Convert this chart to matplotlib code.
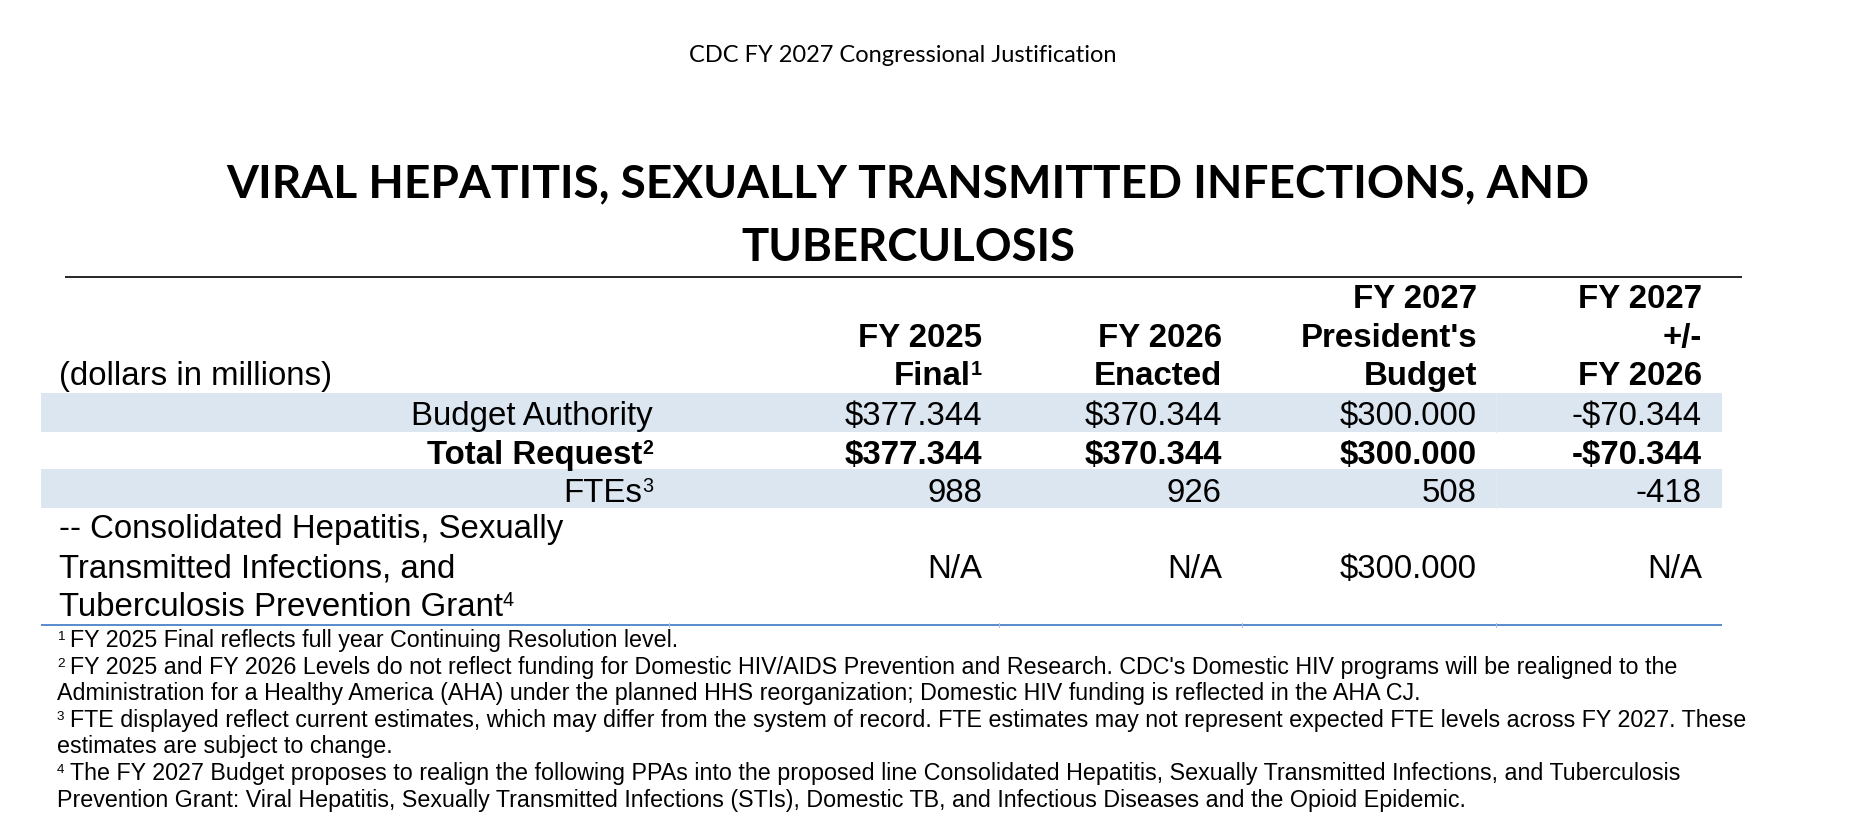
import matplotlib
matplotlib.use("Agg")
import matplotlib.pyplot as plt
from matplotlib.patches import Rectangle

# ---- data ----
page_header = "CDC FY 2027 Congressional Justification"
title_lines = ["VIRAL HEPATITIS, SEXUALLY TRANSMITTED INFECTIONS, AND", "TUBERCULOSIS"]
unit_label = "(dollars in millions)"
column_headers = [
    ["FY 2025", "Final"],
    ["FY 2026", "Enacted"],
    ["FY 2027", "President's", "Budget"],
    ["FY 2027", "+/-", "FY 2026"],
]
column_notes = ["1", "", "", ""]
row_labels = ["Budget Authority", "Total Request", "FTEs"]
row_notes = ["", "2", "3"]
budget_authority = [377.344, 370.344, 300.000, -70.344]
total_request = [377.344, 370.344, 300.000, -70.344]
ftes = [988, 926, 508, -418]
grant_label = ["-- Consolidated Hepatitis, Sexually",
               "Transmitted Infections, and",
               "Tuberculosis Prevention Grant"]
grant_note = "4"
grant_values = [None, None, 300.000, None]
footnote_marks = ["1", "2", "", "3", "", "4", ""]
footnotes = [
    "FY 2025 Final reflects full year Continuing Resolution level.",
    "FY 2025 and FY 2026 Levels do not reflect funding for Domestic HIV/AIDS Prevention and Research. CDC's Domestic HIV programs will be realigned to the",
    "Administration for a Healthy America (AHA) under the planned HHS reorganization; Domestic HIV funding is reflected in the AHA CJ.",
    "FTE displayed reflect current estimates, which may differ from the system of record. FTE estimates may not represent expected FTE levels across FY 2027. These",
    "estimates are subject to change.",
    "The FY 2027 Budget proposes to realign the following PPAs into the proposed line Consolidated Hepatitis, Sexually Transmitted Infections, and Tuberculosis",
    "Prevention Grant: Viral Hepatitis, Sexually Transmitted Infections (STIs), Domestic TB, and Infectious Diseases and the Opioid Epidemic.",
]


def money(v):
    if v is None:
        return "N/A"
    s = f"${abs(v):.3f}"
    return "-" + s if v < 0 else s


def count(v):
    return f"{v:d}"


W, H = 1856, 838
fig = plt.figure(figsize=(W / 100, H / 100), dpi=100)
ax = fig.add_axes([0, 0, 1, 1])
ax.set_xlim(0, W)
ax.set_ylim(H, 0)
ax.axis("off")

px = 0.72  # points per pixel
tbl_font = ["Liberation Sans", "DejaVu Sans"]
tbl_px = 33
head_font = ["Lato", "Open Sans", "DejaVu Sans"]

renderer = fig.canvas.get_renderer()


def width_of(t):
    return t.get_window_extent(renderer).width


def fit_width(t, width):
    t.set_fontsize(t.get_fontsize() * width / width_of(t))


def sup_right(x, base, main, note, size_px=tbl_px, weight="normal"):
    """Right-aligned text with a small raised note number after it."""
    sup_px = size_px * 0.6
    raise_px = 0.716 * (size_px - sup_px) + 0.5
    kw = dict(va="baseline", family=tbl_font, fontweight=weight)
    dx = 0
    if note:
        ts = ax.text(x, base - raise_px, note, ha="right", fontsize=sup_px * px, **kw)
        dx = width_of(ts)
    ax.text(x - dx, base, main, ha="right", fontsize=size_px * px, **kw)


# page header and title
t = ax.text(903, 62, page_header, ha="center", va="baseline", family=head_font, fontsize=18)
fit_width(t, 427)
for text, base, width in zip(title_lines, [197, 261], [1360, 334]):
    t = ax.text(908, base, text, ha="center", va="baseline", family=head_font,
                fontweight="bold", fontsize=40)
    fit_width(t, width)

ax.plot([65, 1742], [277, 277], color="#2b2b2b", lw=2 * px, solid_capstyle="butt")

# table geometry
col_right = [982, 1222, 1477, 1702]
label_right = 653
left_x = 59
band_color = "#dce6f1"

# shaded rows
for top in [393, 469]:
    ax.add_patch(Rectangle((41, top), 1722 - 41, 38.5, facecolor=band_color, edgecolor="none"))
    ax.plot([1496, 1496], [top, top + 38.5], color="#e2e9f3", lw=1 * px)

# column headers, bottom aligned
head_bases = [308, 347, 385]
for x, lines, note in zip(col_right, column_headers, column_notes):
    for k, (line, base) in enumerate(zip(lines, head_bases[-len(lines):])):
        last = k == len(lines) - 1
        sup_right(x, base, line, note if last else "", weight="bold")
ax.text(left_x, 385, unit_label, ha="left", va="baseline", family=tbl_font,
        fontsize=tbl_px * px)

# data rows
row_bases = [425, 464, 502]
row_values = [budget_authority, total_request, ftes]
row_fmt = [money, money, count]
row_weight = ["normal", "bold", "normal"]
for label, note, vals, fmt, wt, base in zip(row_labels, row_notes, row_values, row_fmt,
                                            row_weight, row_bases):
    sup_right(label_right, base, label, note, weight=wt)
    for x, v in zip(col_right, vals):
        ax.text(x, base, fmt(v), ha="right", va="baseline", family=tbl_font,
                fontsize=tbl_px * px, fontweight=wt)

# consolidated grant row
grant_bases = [538, 577, 616]
for k, (line, base) in enumerate(zip(grant_label, grant_bases)):
    tm = ax.text(left_x, base, line, ha="left", va="baseline", family=tbl_font,
                 fontsize=tbl_px * px)
    if k == len(grant_label) - 1:
        ax.text(left_x + width_of(tm), base - 0.716 * tbl_px * 0.4 - 0.5, grant_note,
                ha="left", va="baseline", family=tbl_font, fontsize=tbl_px * 0.6 * px)
for x, v in zip(col_right, grant_values):
    ax.text(x, 578, money(v), ha="right", va="baseline", family=tbl_font,
            fontsize=tbl_px * px)

ax.plot([41, 1722], [625, 625], color="#5b8dcf", lw=2 * px, solid_capstyle="butt")
for xe in [669, 999, 1242, 1496]:
    ax.plot([xe, xe], [623, 627], color="#a9c1e3", lw=1 * px)

# footnotes: size chosen so the long second line spans like the source
probe = ax.text(0, 0, footnotes[1], family=tbl_font, fontsize=20 * px)
foot_px = 20 * 1606 / width_of(probe)
probe.remove()
for i, (mark, line) in enumerate(zip(footnote_marks, footnotes)):
    base = 647 + 26.6 * i
    x0 = 57
    if mark:
        ts = ax.text(57, base - 0.716 * foot_px * 0.42, mark, ha="left", va="baseline",
                     family=tbl_font, fontsize=foot_px * 0.58 * px)
        x0 = 57 + width_of(ts) + 0.25 * foot_px
    ax.text(x0, base, line, ha="left", va="baseline", family=tbl_font, fontsize=foot_px * px)

fig.savefig("out.png", dpi=100)
